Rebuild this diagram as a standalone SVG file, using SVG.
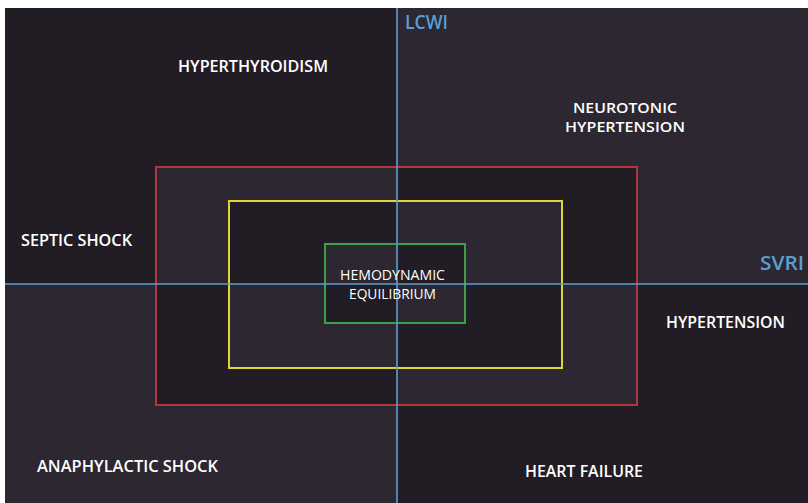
<svg xmlns="http://www.w3.org/2000/svg" width="808" height="503" viewBox="0 0 808 503">
<style>
.d{fill:#221d25}
.l{fill:#2c2731}
.box{fill:none;stroke-width:2}
.axis{stroke:#5a9fd0;stroke-width:1.6;fill:none}
.t{font-family:"Open Sans","Liberation Sans",sans-serif;font-weight:600;font-size:16.5px;fill:#ffffff}
.a{font-family:"Open Sans","Liberation Sans",sans-serif;font-weight:600;font-size:19px;fill:#5a9fd0}
</style>
<rect x="0" y="0" width="808" height="503" fill="#ffffff"/>
<g id="background">
<rect class="d" x="5" y="8" width="392" height="276"/>
<rect class="l" x="397" y="8" width="411" height="276"/>
<rect class="l" x="5" y="284" width="392" height="219"/>
<rect class="d" x="397" y="284" width="411" height="219"/>
<rect class="l" x="156" y="167" width="241" height="117"/>
<rect class="d" x="397" y="167" width="240" height="117"/>
<rect class="d" x="156" y="284" width="241" height="121"/>
<rect class="l" x="397" y="284" width="240" height="121"/>
<rect class="d" x="229" y="201" width="168" height="83"/>
<rect class="l" x="397" y="201" width="165" height="83"/>
<rect class="l" x="229" y="284" width="168" height="84"/>
<rect class="d" x="397" y="284" width="165" height="84"/>
<rect class="l" x="325" y="244" width="72" height="40"/>
<rect class="d" x="397" y="244" width="68" height="40"/>
<rect class="d" x="325" y="284" width="72" height="39"/>
<rect class="l" x="397" y="284" width="68" height="39"/>
</g>
<g id="zone-red"><rect class="box" stroke="#b3363f" x="156" y="167" width="481" height="238"/></g>
<g id="zone-yellow"><rect class="box" stroke="#ddd634" x="229" y="201" width="333" height="167"/></g>
<g id="zone-green"><rect class="box" stroke="#3f9e48" x="325" y="244" width="140" height="79"/></g>
<g id="connectors">
<line class="axis" x1="397" y1="8" x2="397" y2="503"/>
<line class="axis" x1="5" y1="284" x2="808" y2="284"/>
</g>
<g id="axis-lcwi"><text class="a" x="405" y="29" textLength="43" lengthAdjust="spacingAndGlyphs">LCWI</text></g>
<g id="axis-svri"><text class="a" x="760" y="270" textLength="44" lengthAdjust="spacingAndGlyphs">SVRI</text></g>
<g id="hyperthyroidism"><text class="t" x="178" y="72" textLength="150" lengthAdjust="spacingAndGlyphs">HYPERTHYROIDISM</text></g>
<g id="neurotonic-hypertension">
<text class="t" x="573" y="113" textLength="104" lengthAdjust="spacingAndGlyphs" style="font-size:15px">NEUROTONIC</text>
<text class="t" x="565" y="132" textLength="120" lengthAdjust="spacingAndGlyphs" style="font-size:15px">HYPERTENSION</text>
</g>
<g id="septic-shock"><text class="t" x="21" y="246" textLength="111" lengthAdjust="spacingAndGlyphs">SEPTIC SHOCK</text></g>
<g id="hemodynamic-equilibrium">
<text class="t" x="340" y="280" textLength="105" lengthAdjust="spacingAndGlyphs" style="font-weight:400;font-size:15px">HEMODYNAMIC</text>
<text class="t" x="349" y="299" textLength="87" lengthAdjust="spacingAndGlyphs" style="font-weight:400;font-size:15px">EQUILIBRIUM</text>
</g>
<g id="hypertension"><text class="t" x="666" y="328" textLength="119" lengthAdjust="spacingAndGlyphs">HYPERTENSION</text></g>
<g id="anaphylactic-shock"><text class="t" x="37" y="472" textLength="181" lengthAdjust="spacingAndGlyphs">ANAPHYLACTIC SHOCK</text></g>
<g id="heart-failure"><text class="t" x="525" y="477" textLength="118" lengthAdjust="spacingAndGlyphs">HEART FAILURE</text></g>
</svg>
